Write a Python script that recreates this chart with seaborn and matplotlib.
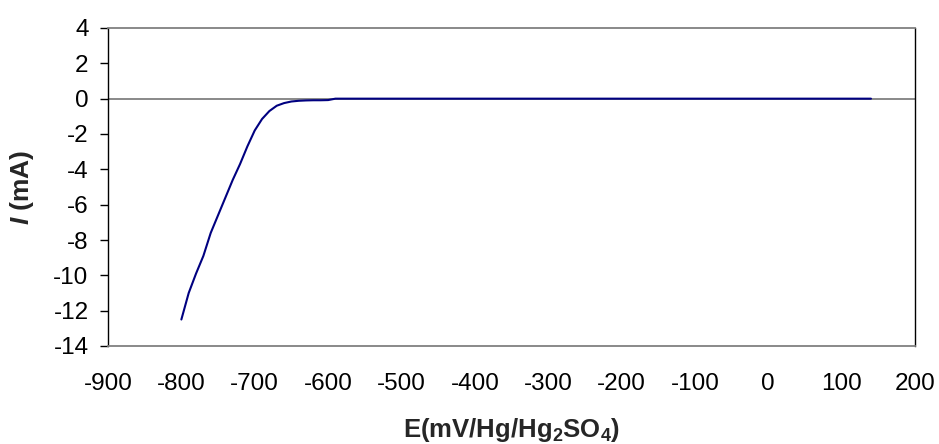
import matplotlib
matplotlib.use("Agg")
import matplotlib.pyplot as plt
import seaborn as sns
import pandas as pd

# Data
potential_mV = [-800, -790, -780, -770, -760, -750, -740, -730, -720, -710,
                -700, -690, -680, -670, -660, -650, -640, -630, -620, -610,
                -600, -590, -500, -400, -300, -200, -100, 0, 100, 140]
current_mA = [-12.5, -11.0, -9.9, -8.9, -7.6, -6.6, -5.6, -4.6, -3.7, -2.7,
              -1.8, -1.15, -0.7, -0.4, -0.25, -0.16, -0.12, -0.10, -0.09, -0.09,
              -0.08, 0.0, 0.0, 0.0, 0.0, 0.0, 0.0, 0.0, 0.0, 0.0]
x_ticks = [-900, -800, -700, -600, -500, -400, -300, -200, -100, 0, 100, 200]
y_ticks = [4, 2, 0, -2, -4, -6, -8, -10, -12, -14]

sns.set_style("white")
plt.rcParams['font.family'] = ['Liberation Sans', 'DejaVu Sans']
plt.rcParams['mathtext.fontset'] = 'custom'
plt.rcParams['mathtext.rm'] = 'Liberation Sans:bold'
plt.rcParams['mathtext.it'] = 'Liberation Sans:bold:italic'
plt.rcParams['mathtext.bf'] = 'Liberation Sans:bold'

df = pd.DataFrame({"E": potential_mV, "I": current_mA})

fig = plt.figure(figsize=(9.39, 4.44), dpi=100)
ax = fig.add_axes([108 / 939, 1 - 346 / 444, (915 - 108) / 939, (346 - 28) / 444])

ax.axhline(0, color="#808080", lw=1.3, zorder=1)
sns.lineplot(data=df, x="E", y="I", sort=False, color="#000080", lw=1.5, ax=ax, zorder=3)

ax.set_xlim(-900, 200)
ax.set_ylim(-14, 4)
ax.set_xticks(x_ticks)
ax.set_yticks(y_ticks)
ax.set_xticklabels([str(v) for v in x_ticks])
ax.set_yticklabels([str(v) for v in y_ticks])

ax.tick_params(axis="x", length=0, pad=19.5, labelsize=17.5, colors="black")
ax.tick_params(axis="y", length=6, width=1, direction="out", pad=8, labelsize=17.5,
               colors="black", left=True)

for side in ["top", "bottom"]:
    ax.spines[side].set_color("#808080")
    ax.spines[side].set_linewidth(1.3)
for side in ["left", "right"]:
    ax.spines[side].set_color("black")
    ax.spines[side].set_linewidth(1.0)

ax.set_xlabel(r"E(mV/Hg/Hg$_\mathrm{2}$SO$_\mathrm{4}$)", fontsize=18.5, fontweight="bold")
ax.set_ylabel(r"$I$ (mA)", fontsize=19, fontweight="bold")
ax.xaxis.set_label_coords(0.5, -(430 - 346) / 318)
ax.yaxis.set_label_coords(-(108 - 22) / 807, 0.5)
ax.xaxis.label.set_va("center")
ax.yaxis.label.set_va("center")

fig.savefig("out.png", dpi=100, facecolor="white")
